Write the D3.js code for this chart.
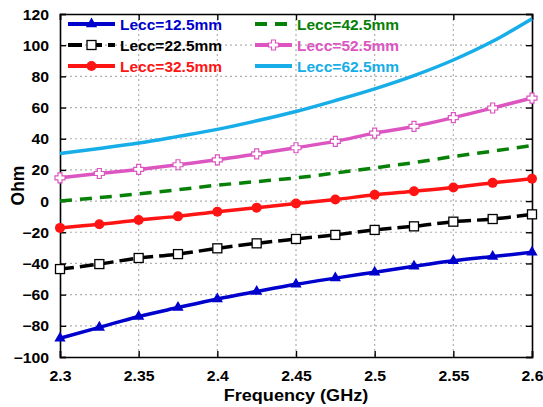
<!DOCTYPE html>
<html>
<head>
<meta charset="utf-8">
<script src="https://cdn.jsdelivr.net/npm/d3@7"></script>
<style>
  html, body { margin: 0; padding: 0; background: #fff; }
  svg { display: block; }
  text { font-family: "Liberation Sans", Arial, sans-serif; font-weight: bold; }
</style>
</head>
<body>
<svg id="chart" width="543" height="407"></svg>
<script>
// Frequency sweep (GHz)
const freq = [2.3, 2.325, 2.35, 2.375, 2.4, 2.425, 2.45, 2.475, 2.5, 2.525, 2.55, 2.575, 2.6];

// Impedance (Ohm) for each eccentricity length
const lecc125 = [-88, -81, -74, -68.3, -62.8, -58, -53.4, -49.4, -45.6, -41.8, -38.3, -35.6, -32.8];
const lecc225 = [-43.6, -40.4, -36.5, -34, -30.3, -27.1, -24.3, -21.7, -18.5, -16.2, -13.2, -11.5, -8.5];
const lecc325 = [-17.2, -14.9, -12.1, -9.8, -6.8, -4.2, -1.6, 1.0, 4.0, 6.3, 8.7, 11.7, 14.3];
const lecc425 = [0, 2.3, 4.6, 7.3, 10.2, 12.5, 14.9, 18, 21.3, 24.7, 28.6, 32, 35.7];
const lecc525 = [14.9, 17.7, 20.3, 23.3, 26.5, 30.3, 34.2, 38.3, 43.6, 47.9, 53.5, 59.7, 66.1];
const lecc625 = [30.5, 33.7, 37.2, 41.5, 46, 51.5, 57.5, 64.5, 72, 80.5, 90.5, 102.5, 117];

const seriesNames = ["Lecc=12.5mm", "Lecc=22.5mm", "Lecc=32.5mm", "Lecc=42.5mm", "Lecc=52.5mm", "Lecc=62.5mm"];

const xTicks = [2.3, 2.35, 2.4, 2.45, 2.5, 2.55, 2.6];
const yTicks = [-100, -80, -60, -40, -20, 0, 20, 40, 60, 80, 100, 120];

const series = [
  { name: seriesNames[0], values: lecc125, color: "#0000cd", dash: null, marker: "triangle", text: "#0000cd" },
  { name: seriesNames[1], values: lecc225, color: "#000000", dash: "14,6", marker: "square", text: "#000000" },
  { name: seriesNames[2], values: lecc325, color: "#ff1414", dash: null, marker: "circle", text: "#ff1414" },
  { name: seriesNames[3], values: lecc425, color: "#068006", dash: "12,8", marker: null, text: "#068006" },
  { name: seriesNames[4], values: lecc525, color: "#dc55c0", dash: null, marker: "plus", text: "#dc55c0" },
  { name: seriesNames[5], values: lecc625, color: "#16ade8", dash: null, marker: null, text: "#16ade8" }
];

const svg = d3.select("#chart");
const m = { left: 60, right: 532, top: 14, bottom: 357 };

const x = d3.scaleLinear().domain([2.3, 2.6]).range([m.left, m.right]);
const y = d3.scaleLinear().domain([-100, 120]).range([m.bottom, m.top]);

// Dotted grid at interior ticks
const grid = svg.append("g");
grid.selectAll("line.gx").data(xTicks.slice(1, -1)).join("line")
  .attr("x1", d => x(d)).attr("x2", d => x(d))
  .attr("y1", m.top).attr("y2", m.bottom)
  .attr("stroke", "#b0b0b0").attr("stroke-width", 1.2).attr("stroke-dasharray", "2,3");
grid.selectAll("line.gy").data(yTicks.slice(1, -1)).join("line")
  .attr("x1", m.left).attr("x2", m.right)
  .attr("y1", d => y(d)).attr("y2", d => y(d))
  .attr("stroke", "#b0b0b0").attr("stroke-width", 1.2).attr("stroke-dasharray", "2,3");

// Axes with inward ticks on all four sides
const stretch = 1.13;
const xAxis = svg.append("g").attr("transform", `translate(0,${m.bottom})`)
  .call(d3.axisBottom(x).tickValues(xTicks).tickFormat(d3.format("")).tickSize(-6).tickPadding(0));
xAxis.selectAll("text").attr("y", 0).attr("dy", "24px")
  .attr("font-size", 14).attr("fill", "#000")
  .attr("transform", `scale(${stretch},1)`)
  .attr("x", 0);
xAxis.selectAll("text").each(function(d, i) {
  // keep labels centred on their ticks after horizontal stretch
  d3.select(this).attr("transform", `scale(${stretch},1)`);
});

const yAxis = svg.append("g").attr("transform", `translate(${m.left},0)`)
  .call(d3.axisLeft(y).tickValues(yTicks).tickFormat(d3.format("")).tickSize(-6).tickPadding(0));
yAxis.selectAll("text").attr("x", -11 / stretch).attr("dy", "0.36em")
  .attr("font-size", 14).attr("fill", "#000")
  .attr("transform", `scale(${stretch},1)`);

svg.append("g").attr("transform", `translate(0,${m.top})`)
  .call(d3.axisTop(x).tickValues(xTicks).tickFormat("").tickSize(-6));
svg.append("g").attr("transform", `translate(${m.right},0)`)
  .call(d3.axisRight(y).tickValues(yTicks).tickFormat("").tickSize(-6));

svg.selectAll(".domain").attr("stroke", "#000").attr("stroke-width", 1.6);
svg.selectAll(".tick line").attr("stroke", "#000").attr("stroke-width", 1.4);

// Axis titles
svg.append("text")
  .attr("x", (m.left + m.right) / 2 / stretch).attr("y", 401)
  .attr("text-anchor", "middle").attr("font-size", 16)
  .attr("transform", `scale(${stretch},1)`)
  .text("Frequency (GHz)");
svg.append("text")
  .attr("transform", `translate(24,${(m.top + m.bottom) / 2}) rotate(-90)`)
  .attr("text-anchor", "middle").attr("font-size", 17.5)
  .text("Ohm");

// Curves
const line = d3.line().x((d, i) => x(freq[i])).y(d => y(d)).curve(d3.curveMonotoneX);
const plot = svg.append("g");

function drawMarker(g, type, color, cx, cy) {
  if (type === "triangle") {
    g.append("path").attr("d", d3.symbol(d3.symbolTriangle, 55)())
      .attr("transform", `translate(${cx},${cy})`).attr("fill", color);
  } else if (type === "square") {
    g.append("rect").attr("x", cx - 4.5).attr("y", cy - 4.5).attr("width", 9).attr("height", 9)
      .attr("fill", "#fff").attr("stroke", color).attr("stroke-width", 1.3);
  } else if (type === "circle") {
    g.append("circle").attr("cx", cx).attr("cy", cy).attr("r", 5).attr("fill", color);
  } else if (type === "plus") {
    const s = 5, w = 2;
    const p = `M${-w},${-s}H${w}V${-w}H${s}V${w}H${w}V${s}H${-w}V${w}H${-s}V${-w}H${-w}Z`;
    g.append("path").attr("d", p).attr("transform", `translate(${cx},${cy})`)
      .attr("fill", "#fff").attr("stroke", color).attr("stroke-width", 1.2);
  }
}

series.forEach(s => {
  plot.append("path").datum(s.values).attr("d", line)
    .attr("fill", "none").attr("stroke", s.color).attr("stroke-width", 3.5)
    .attr("stroke-dasharray", s.dash);
  if (s.marker) {
    const mg = plot.append("g");
    s.values.forEach((v, i) => drawMarker(mg, s.marker, s.color, x(freq[i]), y(v)));
  }
});

// Legend in two columns
const legend = svg.append("g");
const rows = [24, 45, 66];
const cols = [
  { x1: 68, x2: 115, tx: 120 },
  { x1: 255, x2: 292, tx: 297 }
];
series.forEach((s, i) => {
  const c = cols[Math.floor(i / 3)], ry = rows[i % 3];
  legend.append("line").attr("x1", c.x1).attr("x2", c.x2).attr("y1", ry).attr("y2", ry)
    .attr("stroke", s.color).attr("stroke-width", 4).attr("stroke-dasharray", s.dash);
  if (s.marker) drawMarker(legend, s.marker, s.color, (c.x1 + c.x2) / 2, ry);
  legend.append("text").attr("x", c.tx).attr("y", ry).attr("dy", "0.36em")
    .attr("font-size", 15.5).attr("fill", s.text).text(s.name);
});
</script>
</body>
</html>
